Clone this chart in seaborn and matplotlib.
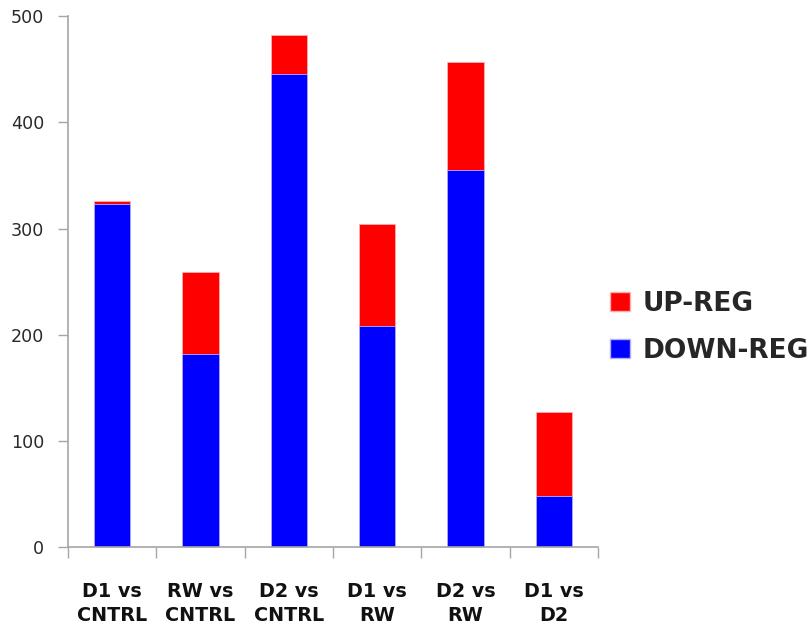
import matplotlib
matplotlib.use("Agg")
import matplotlib.pyplot as plt
from matplotlib.patches import Patch
import seaborn as sns
import pandas as pd

categories = ["D1 vs\nCNTRL", "RW vs\nCNTRL", "D2 vs\nCNTRL", "D1 vs\nRW", "D2 vs\nRW", "D1 vs\nD2"]
down_reg = [323, 182, 445, 208, 355, 48]
up_reg = [3, 77, 37, 96, 102, 79]
y_ticks = [0, 100, 200, 300, 400, 500]

sns.set_theme(style="white")
plt.rcParams["font.family"] = ["DejaVu Sans"]

df = pd.DataFrame({"cat": categories, "down": down_reg, "up": up_reg})
df["total"] = df["down"] + df["up"]

fig = plt.figure(figsize=(8.12, 6.29), dpi=100)
ax = fig.add_axes([0.0837, 0.1296, 0.6527, 0.845])

# stacked bars: full height in red, lower part in blue on top of it
sns.barplot(data=df, x="cat", y="total", color="#ff0000", width=0.41,
            saturation=1, ax=ax, edgecolor="#ffb0b0", linewidth=0.6)
sns.barplot(data=df, x="cat", y="down", color="#0000ff", width=0.41,
            saturation=1, ax=ax, edgecolor="#b0b0ff", linewidth=0.6)

ax.set_xlim(-0.5, len(categories) - 0.5)
ax.set_ylim(0, 500)
ax.set_yticks(y_ticks)
ax.set_yticklabels([str(v) for v in y_ticks], fontsize=12.6, color="#2a2a2a")
ax.set_xlabel("")
ax.set_ylabel("")

ax.set_xticks(range(len(categories)))
ax.set_xticklabels(categories, fontsize=13.8, fontweight="bold", color="#111111",
                   linespacing=1.35)
ax.set_xticks([i - 0.5 for i in range(len(categories) + 1)], minor=True)
ax.tick_params(axis="x", which="major", length=0, pad=25)
ax.tick_params(axis="x", which="minor", length=8, width=1, color="#a6a6a6", direction="out", bottom=True)
ax.tick_params(axis="y", length=7, width=1, color="#a6a6a6", direction="out", left=True, pad=10)

for side in ["top", "right"]:
    ax.spines[side].set_visible(False)
for side in ["left", "bottom"]:
    ax.spines[side].set_color("#a6a6a6")
    ax.spines[side].set_linewidth(1.2)

handles = [Patch(facecolor="#ff0000", edgecolor="#ffb0b0", label="UP-REG"),
           Patch(facecolor="#0000ff", edgecolor="#b0b0ff", label="DOWN-REG")]
fig.legend(handles=handles, loc="center left", bbox_to_anchor=(0.722, 0.48),
           frameon=False, prop={"size": 19, "weight": "bold"},
           handlelength=0.75, handleheight=0.75, handletextpad=0.5,
           labelspacing=0.8)

fig.savefig("out.png", dpi=100)
